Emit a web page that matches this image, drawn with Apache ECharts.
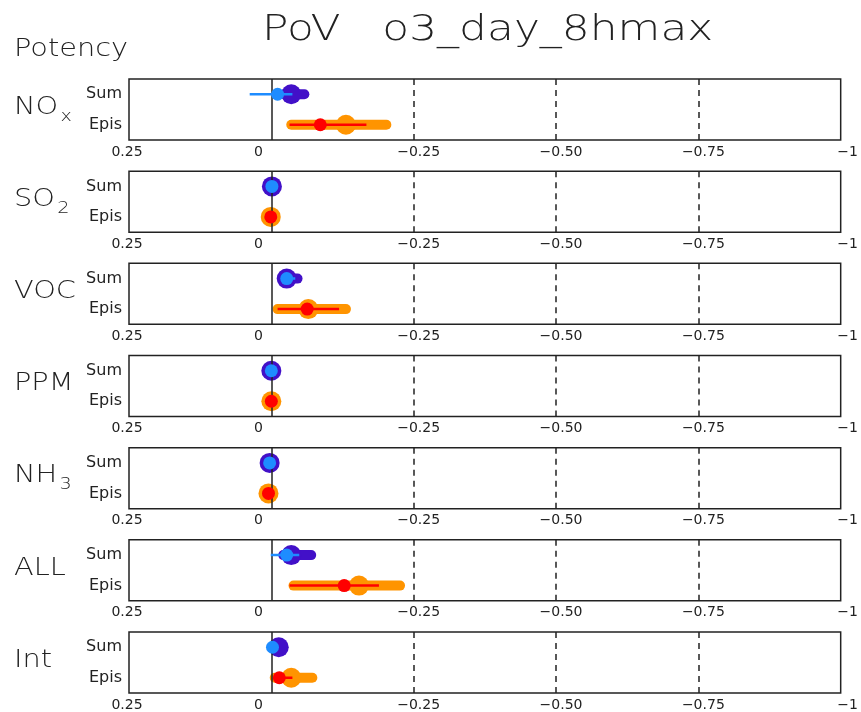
<!DOCTYPE html>
<html><head><meta charset="utf-8">
<script src="https://cdn.jsdelivr.net/npm/echarts@6/dist/echarts.min.js"></script>
<style>html,body{margin:0;padding:0;background:#fff}#c{width:861px;height:712px}</style>
</head><body><div id="c"></div>
<script>
// Species panels (top to bottom)
const speciesMain = ['NO', 'SO', 'VOC', 'PPM', 'NH', 'ALL', 'Int'];
const speciesSub  = ['x',  '2',  '',    '',    '3',  '',    ''];
const rowNames = ['Sum', 'Epis'];

// "Sum" row: thick range bar, central estimate, thin range, point estimate
const sumBarLo  = [-0.023, -0.001, -0.021,  0.000, 0.003, -0.021, -0.013];
const sumBarHi  = [-0.058, -0.001, -0.046,  0.000, 0.003, -0.070, -0.013];
const sumCircle = [-0.035, -0.001, -0.027,  0.000, 0.003, -0.035, -0.013];
const sumLineLo = [ 0.038, -0.001, -0.020,  0.000, 0.003,  0.001, -0.002];
const sumLineHi = [-0.037, -0.001, -0.042,  0.000, 0.003, -0.049, -0.002];
const sumDot    = [-0.011, -0.001, -0.027,  0.000, 0.003, -0.027, -0.002];

// "Epis" row
const epiBarLo  = [-0.035, 0.001, -0.011,  0.000, 0.005, -0.039, -0.006];
const epiBarHi  = [-0.202, 0.001, -0.131,  0.000, 0.005, -0.226, -0.072];
const epiCircle = [-0.131, 0.001, -0.065,  0.000, 0.005, -0.154, -0.035];
const epiLineLo = [-0.032, 0.001, -0.011,  0.000, 0.005, -0.032, -0.009];
const epiLineHi = [-0.167, 0.001, -0.119,  0.000, 0.005, -0.189, -0.037];
const epiDot    = [-0.086, 0.001, -0.063,  0.000, 0.005, -0.128, -0.014];

// x-axis ticks
const tickValues = [0.25, 0, -0.25, -0.5, -0.75, -1];
const tickLabels = ['0.25', '0', '\u22120.25', '\u22120.50', '\u22120.75', '\u22121'];
const tickStyle  = ['a', 'z', 'n', 'n', 'n', 'e'];
const dashedRefs = [-0.25, -0.5, -0.75];

const C = {
  dark: '#4210c8', light: '#1e8cff',
  orange: '#ff9400', red: '#ff0000', ink: '#222'
};

const TOP0 = 79, STEP = 92.17, H = 61, LEFT = 129, RIGHT = 18;

const grids = [], xAxes = [], yAxes = [], series = [], graphics = [];

for (let i = 0; i < speciesMain.length; i++) {
  const top = TOP0 + i * STEP;
  grids.push({ left: LEFT, right: RIGHT, top: top, height: H, show: true,
    borderColor: C.ink, borderWidth: 1.5, backgroundColor: 'transparent' });
  xAxes.push({
    gridIndex: i, type: 'value', min: -1, max: 0.25, interval: 0.25, inverse: true,
    axisLine: { show: false }, axisTick: { show: false }, splitLine: { show: false },
    axisLabel: {
      show: true, margin: 5, showMinLabel: true, showMaxLabel: true,
      fontFamily: 'DejaVu Sans', fontSize: 14, color: C.ink,
      formatter: function (v) {
        const k = tickValues.findIndex(t => Math.abs(t - v) < 1e-9);
        return k < 0 ? '' : '{' + tickStyle[k] + '|' + tickLabels[k] + '}';
      },
      rich: {
        a: { fontSize: 14, color: C.ink, padding: [0, 4, 0, 0] },
        z: { fontSize: 14, color: C.ink, padding: [0, 26, 0, 0] },
        n: { fontSize: 14, color: C.ink, padding: [0, 0, 0, 10] },
        e: { fontSize: 14, color: C.ink, padding: [0, 0, 0, 14] }
      }
    }
  });
  yAxes.push({
    gridIndex: i, type: 'value', min: 0, max: 4, interval: 1, inverse: true,
    axisLine: { show: false }, axisTick: { show: false }, splitLine: { show: false },
    axisLabel: {
      margin: 7, fontFamily: 'DejaVu Sans', fontSize: 16, color: C.ink,
      formatter: v => (v === 1 ? rowNames[0] : v === 3 ? rowNames[1] : '')
    }
  });

  // reference lines: solid at zero, dashed at the other interior ticks
  series.push({
    type: 'line', xAxisIndex: i, yAxisIndex: i, data: [], z: 1, silent: true,
    markLine: {
      symbol: 'none', silent: true, label: { show: false },
      data: [{ xAxis: 0, lineStyle: { color: C.ink, width: 1.5, type: 'solid' } }]
        .concat(dashedRefs.map(d => ({ xAxis: d, lineStyle: { color: C.ink, width: 1.5, type: [6, 5] } })))
    }
  });

  const rows = [
    { y: 1, bar: [sumBarLo[i], sumBarHi[i]], circ: sumCircle[i], line: [sumLineLo[i], sumLineHi[i]], dot: sumDot[i], c1: C.dark, c2: C.light },
    { y: 3, bar: [epiBarLo[i], epiBarHi[i]], circ: epiCircle[i], line: [epiLineLo[i], epiLineHi[i]], dot: epiDot[i], c1: C.orange, c2: C.red }
  ];
  rows.forEach(r => {
    series.push({
      type: 'line', xAxisIndex: i, yAxisIndex: i, z: 3, showSymbol: false, silent: true,
      data: [[r.bar[0], r.y], [r.bar[1], r.y]],
      lineStyle: { color: r.c1, width: 10, cap: 'round' }
    });
    series.push({
      type: 'scatter', xAxisIndex: i, yAxisIndex: i, z: 4, silent: true,
      symbolSize: 20, data: [[r.circ, r.y]], itemStyle: { color: r.c1, opacity: 1 }
    });
    series.push({
      type: 'line', xAxisIndex: i, yAxisIndex: i, z: 5, showSymbol: false, silent: true,
      data: [[r.line[0], r.y], [r.line[1], r.y]],
      lineStyle: { color: r.c2, width: 2.5, cap: 'butt' }
    });
    series.push({
      type: 'scatter', xAxisIndex: i, yAxisIndex: i, z: 6, silent: true,
      symbolSize: 13, data: [[r.dot, r.y]], itemStyle: { color: r.c2, opacity: 1 }
    });
  });

  // species name with subscript
  graphics.push({
    type: 'text', left: 14, top: top + H / 2 - 14, scaleX: 1.2,
    style: {
      text: '{m|' + speciesMain[i] + '}' + (speciesSub[i] ? '{s|' + speciesSub[i] + '}' : ''),
      rich: {
        m: { fontFamily: 'DejaVu Sans', fontSize: 24, fontWeight: 300, lineHeight: 34, fill: C.ink, verticalAlign: 'middle' },
        s: { fontFamily: 'DejaVu Sans', fontSize: 16, fontWeight: 300, lineHeight: 16, fill: C.ink, verticalAlign: 'bottom', padding: [0, 0, 0, 2] }
      }
    }
  });
}

graphics.push({
  type: 'text', x: 14, y: 50, scaleX: 1.2,
  style: { text: 'Potency', fontFamily: 'DejaVu Sans', fontSize: 24, fontWeight: 300, fill: C.ink, textVerticalAlign: 'middle' }
});
graphics.push({
  type: 'text', x: 262, y: 31, scaleX: 1.22,
  style: { text: 'PoV   o3_day_8hmax', fontFamily: 'DejaVu Sans', fontSize: 36, fontWeight: 300, fill: C.ink, textVerticalAlign: 'middle' }
});

const chart = echarts.init(document.getElementById('c'), null, { renderer: 'canvas' });
chart.setOption({
  animation: false,
  backgroundColor: '#fff',
  grid: grids, xAxis: xAxes, yAxis: yAxes, series: series, graphic: graphics
});
</script>
</body></html>
